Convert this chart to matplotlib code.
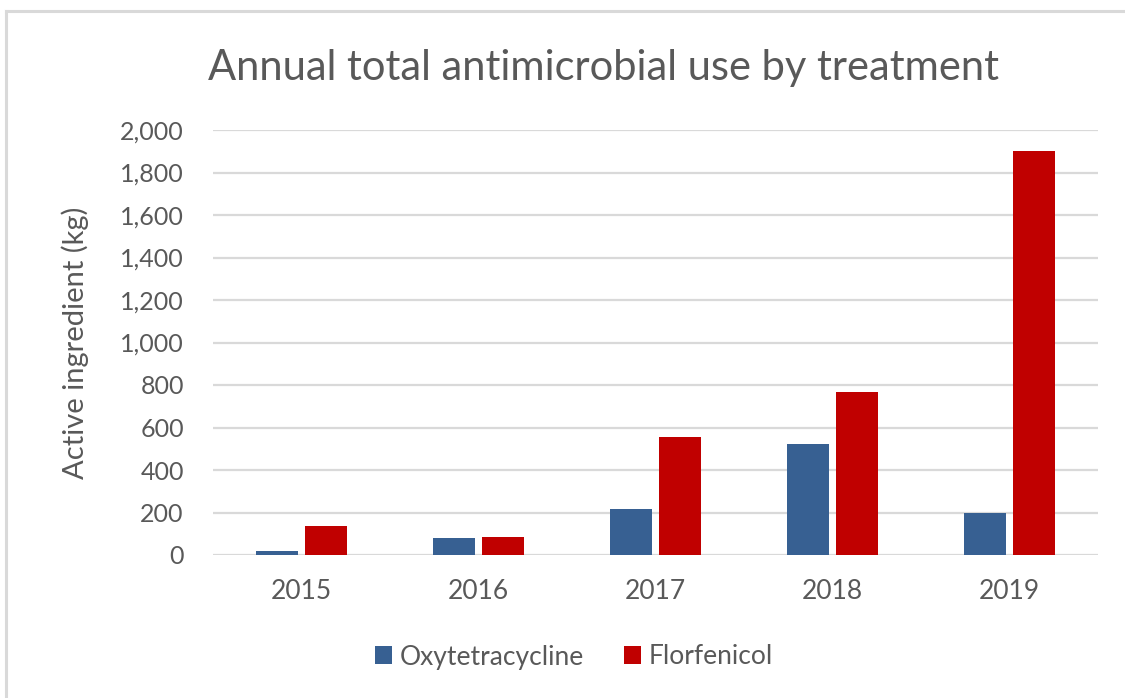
import matplotlib
matplotlib.use("Agg")
import matplotlib.pyplot as plt
import numpy as np
from matplotlib.ticker import FuncFormatter

years = ["2015", "2016", "2017", "2018", "2019"]
oxytetracycline = [18, 78, 216, 522, 196]
florfenicol = [135, 85, 553, 768, 1901]
series_names = ["Oxytetracycline", "Florfenicol"]
colors = ["#376092", "#C00000"]

plt.rcParams['font.family'] = ['Lato', 'DejaVu Sans']
text_color = "#595959"

W, H = 1125, 698
fig = plt.figure(figsize=(W / 100, H / 100), dpi=100)
fig.patch.set_facecolor("white")

# chart border (top and left visible)
fig.add_artist(plt.Line2D([5.5 / W, 5.5 / W], [0, 1 - 10.5 / H], transform=fig.transFigure,
                          color="#d9d9d9", lw=2.2))
fig.add_artist(plt.Line2D([5.5 / W, 1], [1 - 10.5 / H, 1 - 10.5 / H], transform=fig.transFigure,
                          color="#d9d9d9", lw=2.2))

left, right, top, bottom = 213, 1098, 130, 555
ax = fig.add_axes([left / W, 1 - bottom / H, (right - left) / W, (bottom - top) / H])

x = np.arange(len(years))
bw = 0.237
gap = 0.045
off = (bw + gap) / 2
ax.bar(x - off, oxytetracycline, width=bw, color=colors[0], label=series_names[0], zorder=3)
ax.bar(x + off, florfenicol, width=bw, color=colors[1], label=series_names[1], zorder=3)

ax.set_xlim(-0.5, len(years) - 0.5)
ax.set_ylim(0, 2000)
ax.set_yticks(np.arange(0, 2001, 200))
ax.yaxis.set_major_formatter(FuncFormatter(lambda v, p: f"{int(v):,}"))
ax.set_xticks(x)
ax.set_xticklabels(years)
ax.grid(axis="y", color="#d9d9d9", lw=1.6, zorder=0)
ax.set_axisbelow(True)
for s in ax.spines.values():
    s.set_visible(False)
ax.tick_params(axis="both", length=0, labelsize=18, colors=text_color)
ax.tick_params(axis="x", pad=17, labelsize=19)
ax.yaxis.set_tick_params(pad=21)

ax.set_ylabel("Active ingredient (kg)", fontsize=21, color=text_color, labelpad=22)

fig.text(604 / W, 1 - 68 / H, "Annual total antimicrobial use by treatment",
         ha="center", va="center", fontsize=30, color=text_color)

leg = fig.legend(loc="center", bbox_to_anchor=(574 / W, 1 - 657 / H), ncol=2, frameon=False,
                 fontsize=19, handlelength=0.65, handleheight=0.65, handletextpad=0.3,
                 columnspacing=1.5, labelcolor=text_color)

fig.savefig("out.png", dpi=100)
